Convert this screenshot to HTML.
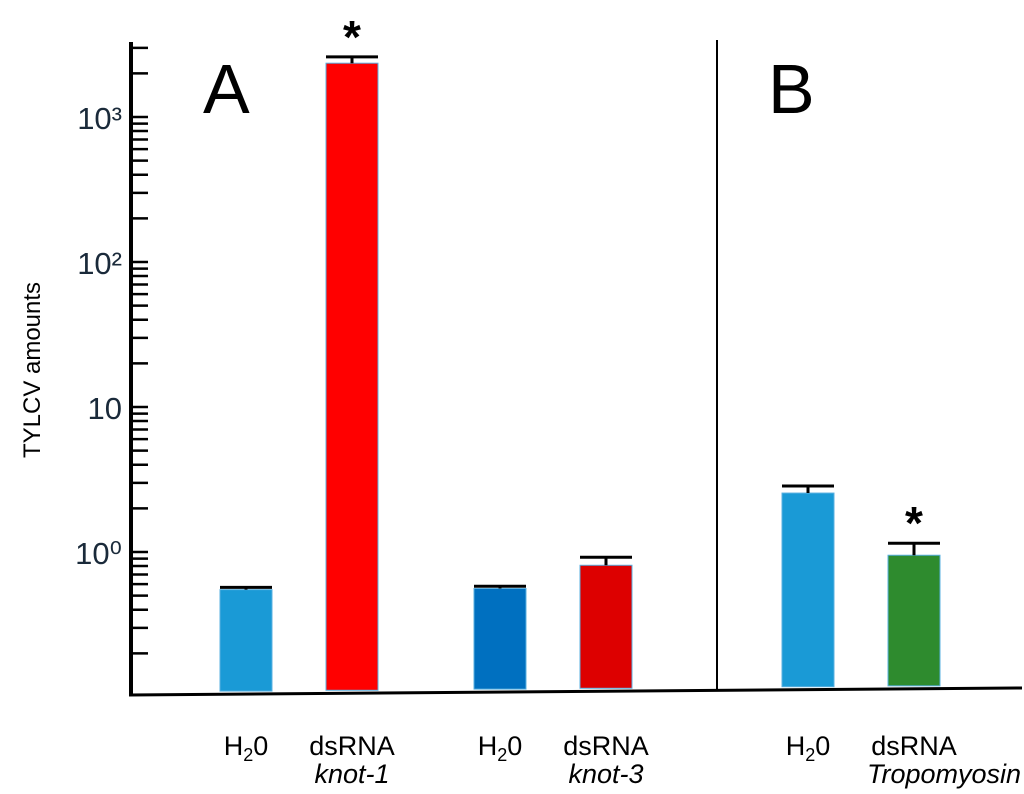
<!DOCTYPE html>
<html><head><meta charset="utf-8"><style>
html,body{margin:0;padding:0;background:#fff;}
svg{display:block;font-family:"Liberation Sans",sans-serif;}
</style></head><body>
<svg id="chart" width="1024" height="794" viewBox="0 0 1024 794" xmlns="http://www.w3.org/2000/svg">
<g id="axes"></g><g id="bars"></g>
<text x="40" y="370" font-size="24" text-anchor="middle" transform="rotate(-90 40 370)">TYLCV amounts</text>
<text x="203" y="113" font-size="70">A</text>
<text x="768" y="113" font-size="70">B</text>
<line x1="717" y1="40" x2="717" y2="690" stroke="#000" stroke-width="2"/>
</svg>
<script>
const categories=["H2O knot-1","dsRNA knot-1","H2O knot-3","dsRNA knot-3","H2O Tropomyosin","dsRNA Tropomyosin"];
const values=[0.55,2350,0.56,0.81,2.55,0.95];
const errors=[0.57,2600,0.58,0.92,2.85,1.15];
const significant=[false,true,false,false,false,true];
const colors=["#1a9ad6","#ff0000","#0070c0","#dd0000","#1a9ad6","#2e8b2e"];
const barCenters=[246,352,500,606,808,914];
const tickLabels=["10\u2070","10","10\u00b2","10\u00b3"];
const NS="http://www.w3.org/2000/svg";
function y(v){return 552-145*Math.log10(v);}
function mk(t,a,p){const e=document.createElementNS(NS,t);for(const k in a)e.setAttribute(k,a[k]);p.appendChild(e);return e;}
const ax=document.getElementById('axes'),bg=document.getElementById('bars');
const yl=mk('line',{x1:131,y1:42,x2:131,y2:696,stroke:'#000','stroke-width':4},ax);


const xl=mk('line',{x1:129,y1:695,x2:1022,y2:688,stroke:'#000','stroke-width':3},ax);


for(let n=-1;n<=3;n++){for(let k=1;k<=9;k++){const v=k*Math.pow(10,n);const yy=y(v);if(yy<42||yy>690)continue;
const t=mk('line',{x1:131,y1:yy,x2:148,y2:yy,stroke:'#000','stroke-width':2.5},ax);

}}
tickLabels.forEach((s,i)=>{const t=mk('text',{x:122,y:y(Math.pow(10,i))+12,'font-size':31,'text-anchor':'end',fill:'#1a2a3a'},ax);t.textContent=s;

});
const w=52;
categories.forEach((c,i)=>{const cx=barCenters[i];const top=y(values[i]);const base=692-(cx-131)*7/893;
const r=mk('rect',{x:cx-w/2,y:top,width:w,height:base-top,fill:colors[i],stroke:'#5ab0e0','stroke-width':1},bg);


const et=y(errors[i]);
const e=mk('path',{d:`M${cx} ${top} V${et} M${cx-w/2} ${et} H${cx+w/2}`,stroke:'#000','stroke-width':3,fill:'none'},bg);


if(significant[i]){const s=mk('text',{x:cx,y:et-4,'font-size':46,'font-weight':'bold','text-anchor':'middle'},bg);s.textContent='*';

}
const l=mk('text',{x:cx,y:755,'font-size':27,'text-anchor':'middle'},bg);
if(i%2==0){l.innerHTML='H<tspan font-size="18" dy="6">2</tspan><tspan dy="-6">0</tspan>';}else{l.textContent='dsRNA';}


});
[["knot-1",352],["knot-3",606],["Tropomyosin",944]].forEach(([s,x])=>{const t=mk('text',{x:x,y:783,'font-size':27,'text-anchor':'middle','font-style':'italic'},bg);t.textContent=s;

});
</script>
</body></html>
